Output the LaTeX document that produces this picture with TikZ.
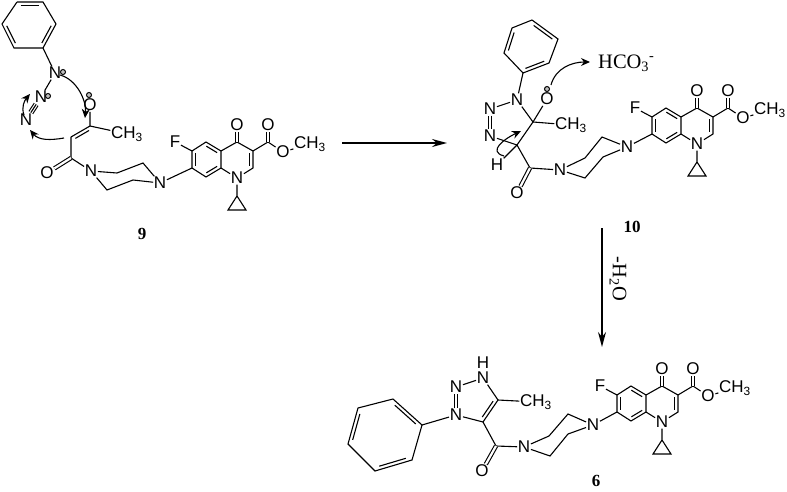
\documentclass[tikz,border=0pt]{standalone}
\usepackage{fontspec}
\setmainfont{Liberation Serif}
\newfontfamily\atomfont{Liberation Sans}
\usetikzlibrary{calc,arrows.meta}

% second line of a ring double bond, #1 gives the side
\newcommand{\ringdbl}[3][-90]{%
	\draw[bond] ($(#2)!.14!(#3)!3.4pt!#1:(#3)$) -- ($(#3)!.14!(#2)!3.4pt!-#1:(#2)$);}

% fluoroquinolone part, the same in all three molecules
\newcommand{\quinolone}{%
	\coordinate (c7) at (192,168);
	\coordinate (c6) at (192,151);
	\coordinate (c5) at (206,142);
	\coordinate (c4a) at (221,151);
	\coordinate (c8a) at (221,168);
	\coordinate (c8) at (206,177);
	\coordinate (c4) at (237,142);
	\coordinate (c3) at (253,151);
	\coordinate (c2) at (253,168);
	\coordinate (c9) at (268,142);
	\coordinate (cp1) at (237,196);
	\coordinate (cp2) at (228,210);
	\coordinate (cp3) at (246,210);
	\node[atom] (n1) at (237,178) {N};
	\node[atom] (f) at (175,142) {F};
	\node[atom] (o4) at (237,125) {O};
	\node[atom] (o9) at (268,125) {O};
	\node[atom] (o10) at (283,152) {O};
	\node[atom] (me) at (310,144) {CH\textsubscript{3}};
	\draw[bond] (c7) -- (c6) -- (c5) -- (c4a) -- (c8a) -- (c8) -- (c7);
	\draw[bond] (c4a) -- (c4) -- (c3) -- (c2) -- (n1) -- (c8a);
	\draw[bond] (c6) -- (f);
	\draw[bond] (c3) -- (c9) -- (o10) -- (me);
	\draw[bond] (n1) -- (cp1) -- (cp2) -- (cp3) -- (cp1);
	\draw[dbl] (c4) -- (o4);
	\draw[dbl] (c9) -- (o9);
	\ringdbl{c7}{c6}
	\ringdbl{c5}{c4a}
	\ringdbl{c8a}{c8}
	\ringdbl{c3}{c2}
}

\begin{document}
\begin{tikzpicture}[
		x=1pt, y=-1pt,
		bond/.style={line width=1.1pt},
		dbl/.style={line width=1.1pt, double, double distance=2.2pt},
		atom/.style={font=\atomfont\fontsize{17}{18}\selectfont, inner sep=0.6pt},
		cmpd/.style={font=\bfseries\fontsize{17}{17}\selectfont, inner sep=0pt},
		serif/.style={font=\fontsize{20.5}{22}\selectfont, inner sep=0pt},
		charge/.style={circle, draw, line width=1pt, fill=gray!50, inner sep=0pt, minimum size=5pt},
		push/.style={line width=1.1pt, -{Stealth[length=9pt,width=8pt]}},
		react/.style={line width=1.3pt, -{Stealth[length=15pt,width=8pt]}},
	]
	\useasboundingbox (0,0) rectangle (787,492);

	% molecule 9
	\coordinate (a1) at (17,2);
	\coordinate (a2) at (43,2);
	\coordinate (a3) at (56,24);
	\coordinate (a4) at (43,48);
	\coordinate (a5) at (14,48);
	\coordinate (a6) at (2,24);
	\node[atom] (an1) at (55,73) {N};
	\node[atom] (an2) at (41,97) {N};
	\node[atom] (an3) at (26,120) {N};
	\node[atom] (ao1) at (90,105) {O};
	\coordinate (ac1) at (90,126);
	\coordinate (ac2) at (71,137);
	\coordinate (ac3) at (71,158);
	\node[atom] (ame) at (127,134) {CH\textsubscript{3}};
	\node[atom] (ao2) at (47,173) {O};
	\node[atom] (an4) at (91,171) {N};
	\coordinate (ap1) at (117,173);
	\coordinate (ap2) at (143,163);
	\node[atom] (an5) at (160,183) {N};
	\coordinate (ap3) at (133,180);
	\coordinate (ap4) at (107,190);
	\node[charge] (ach1) at (63,72) {};
	\node[charge] (ach2) at (48,96) {};
	\node[charge] (ach3) at (89,95) {};
	\node[cmpd] (l9) at (142,234) {9};

	\draw[bond] (a1) -- (a2) -- (a3) -- (a4) -- (a5) -- (a6) -- (a1);
	\ringdbl{a1}{a2}
	\ringdbl{a3}{a4}
	\ringdbl{a5}{a6}
	\draw[bond] (a4) -- (an1);
	\draw[bond] (an1) -- (an2);
	\draw[dbl, double distance=3.4pt, shorten >=1pt, shorten <=1pt] (an2) -- (an3);
	\draw[bond, shorten >=1pt, shorten <=1pt] (an2) -- (an3);
	\draw[bond] (ao1) -- (ac1) -- (ac2);
	\ringdbl[90]{ac1}{ac2}
	\draw[bond] (ac1) -- (ame);
	\draw[bond] (ac2) -- (ac3) -- (an4);
	\draw[dbl] (ac3) -- (ao2);
	\draw[bond] (an4) -- (ap1) -- (ap2) -- (an5) -- (ap3) -- (ap4) -- (an4);

	\begin{scope}[name prefix=a-]
		\quinolone
	\end{scope}
	\draw[bond] (an5) -- (a-c7);

	\draw[push] (60,75) to[out=-15,in=85,looseness=.9] (85,118);
	\draw[push] (64,138) to[out=190,in=-50] (30,130);
	\draw[push] (24,115) to[out=110,in=-130] (30,94);

	% molecule 10
	\coordinate (b1) at (532,20);
	\coordinate (b2) at (558,39);
	\coordinate (b3) at (549,63);
	\coordinate (b4) at (523,73);
	\coordinate (b5) at (504,53);
	\coordinate (b6) at (512,28);
	\node[atom] (bn1) at (517,100) {N};
	\node[atom] (bn2) at (490,109) {N};
	\node[atom] (bn3) at (490,136) {N};
	\coordinate (bc1) at (533,122);
	\coordinate (bc2) at (517,145);
	\coordinate (bc3) at (530,168);
	\node[atom] (bo1) at (547,99) {O};
	\node[atom] (bme) at (571,125) {CH\textsubscript{3}};
	\node[atom] (bh) at (497,165) {H};
	\node[atom] (bo2) at (517,193) {O};
	\node[atom] (bn4) at (560,170) {N};
	\coordinate (bp1) at (585,178);
	\coordinate (bp2) at (603,157);
	\node[atom] (bn5) at (627,147) {N};
	\coordinate (bp3) at (602,137);
	\coordinate (bp4) at (585,158);
	\node[charge] (bch) at (547,89) {};
	\node[serif,anchor=west] (hco) at (598,63) {HCO\textsubscript{3}\textsuperscript{-}};
	\node[cmpd] (l10) at (632,227) {10};

	\draw[bond] (b1) -- (b2) -- (b3) -- (b4) -- (b5) -- (b6) -- (b1);
	\ringdbl{b1}{b2}
	\ringdbl{b3}{b4}
	\ringdbl{b5}{b6}
	\draw[bond] (b4) -- (bn1) -- (bc1) -- (bc2) -- (bn3);
	\draw[bond] (bn1) -- (bn2);
	\draw[dbl] (bn2) -- (bn3);
	\draw[bond] (bc1) -- (bo1);
	\draw[bond] (bc1) -- (bme);
	\draw[bond] (bc2) -- (bh);
	\draw[bond] (bc2) -- (bc3) -- (bn4);
	\draw[dbl] (bc3) -- (bo2);
	\draw[bond] (bn4) -- (bp1) -- (bp2) -- (bn5) -- (bp3) -- (bp4) -- (bn4);

	\begin{scope}[shift={(460,-34)}, name prefix=b-]
		\quinolone
	\end{scope}
	\draw[bond] (bn5) -- (b-c7);

	\draw[push] (551,85) to[out=75,in=180] (590,62);
	\draw[push] (504,156) to[out=165,in=205,looseness=1.5] (521,131);

	% molecule 6
	\coordinate (c1) at (393,399);
	\coordinate (c2) at (422,425);
	\coordinate (c3) at (412,460);
	\coordinate (c4) at (375,471);
	\coordinate (c5) at (348,444);
	\coordinate (c6) at (358,408);
	\node[atom] (cn1) at (456,415) {N};
	\node[atom] (cn2) at (456,387) {N};
	\node[atom] (cn3) at (483,378) {N};
	\node[atom] (ch) at (483,362.5) {H};
	\coordinate (cc1) at (498,400);
	\coordinate (cc2) at (483,422);
	\coordinate (cc3) at (496,446);
	\node[atom] (cme) at (536,402) {CH\textsubscript{3}};
	\node[atom] (co) at (482,471) {O};
	\node[atom] (cn4) at (524,447) {N};
	\coordinate (cp1) at (550,456);
	\coordinate (cp2) at (568,434);
	\node[atom] (cn5) at (593,425) {N};
	\coordinate (cp3) at (568,414);
	\coordinate (cp4) at (549,436);
	\node[cmpd] (l6) at (596,481) {6};

	\draw[bond] (c1) -- (c2) -- (c3) -- (c4) -- (c5) -- (c6) -- (c1);
	\ringdbl{c1}{c2}
	\ringdbl{c3}{c4}
	\ringdbl{c5}{c6}
	\draw[bond] (c2) -- (cn1) -- (cc2);
	\draw[dbl] (cn1) -- (cn2);
	\draw[bond] (cn2) -- (cn3) -- (cc1);
	\draw[bond] (cc1) -- (cc2);
	\ringdbl{cc1}{cc2}
	\draw[bond] (cc1) -- (cme);
	\draw[bond] (cc2) -- (cc3) -- (cn4);
	\draw[dbl] (cc3) -- (co);
	\draw[bond] (cn4) -- (cp1) -- (cp2) -- (cn5) -- (cp3) -- (cp4) -- (cn4);

	\begin{scope}[shift={(425,244)}, name prefix=c-]
		\quinolone
	\end{scope}
	\draw[bond] (cn5) -- (c-c7);

	% reaction arrows
	\coordinate (r1) at (342,143);
	\coordinate (r2) at (447,143);
	\coordinate (r3) at (602,228);
	\coordinate (r4) at (602,347);
	\draw[react] (r1) -- (r2);
	\draw[react] (r3) -- (r4);
	\node[serif,rotate=-90] (water) at (618,279) {-H\textsubscript{2}O};
\end{tikzpicture}
\end{document}
